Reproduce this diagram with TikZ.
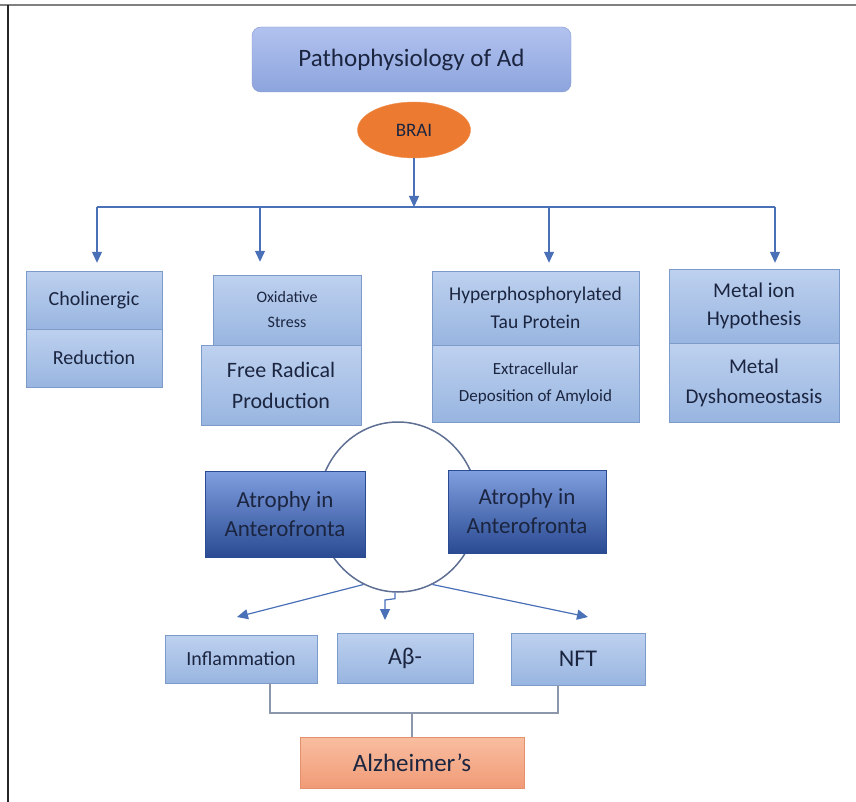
\documentclass[tikz,border=0pt]{standalone}
\usepackage{fontspec}
\setmainfont{Carlito}
\usetikzlibrary{arrows.meta}
\usetikzlibrary{shapes.geometric}

\definecolor{boxtop}{HTML}{BED1EF}
\definecolor{boxbot}{HTML}{98B5E0}
\definecolor{boxline}{HTML}{7C9BCB}
\definecolor{inktext}{HTML}{1B2540}
\definecolor{titletop}{HTML}{B2C2EF}
\definecolor{titlebot}{HTML}{8CA4DD}
\definecolor{titleline}{HTML}{8196CF}
\definecolor{brainfill}{HTML}{EC7B31}
\definecolor{atrtop}{HTML}{809FE0}
\definecolor{atrbot}{HTML}{2A4A92}
\definecolor{alztop}{HTML}{F8BEA0}
\definecolor{alzbot}{HTML}{F19B77}
\definecolor{alzline}{HTML}{E3906D}
\definecolor{flowblue}{HTML}{4A70B8}
\definecolor{ringgray}{HTML}{5E6F93}
\definecolor{joingray}{HTML}{8C97AC}

\tikzset{
  lightbox/.style={draw=boxline, top color=boxtop, bottom color=boxbot, text=inktext, align=center, inner sep=0pt},
  darkbox/.style={draw=atrbot, top color=atrtop, bottom color=atrbot, text=inktext, align=center, inner sep=0pt, font=\fontsize{23}{29}\selectfont},
  flow/.style={draw=flowblue, line width=1.2pt, -{Triangle[length=11pt,width=10pt]}},
  busline/.style={draw=flowblue, line width=1.2pt},
  joint/.style={draw=joingray, line width=1.4pt},
}

\begin{document}
\begin{tikzpicture}[x=1pt,y=-1pt]
	\useasboundingbox (0,0) rectangle (856,802);
	%Frame
	\draw [line width=2pt, color=gray] (0,5) to (856,5);
	\draw [line width=2pt, color=black!85] (8,5) to (8,802);
	%Title and brain
	\node [draw=titleline, rounded corners=9pt, top color=titletop, bottom color=titlebot, text=inktext,
		minimum width=319pt, minimum height=65pt, font=\fontsize{25}{30}\selectfont] (title) at (411.5,59.5) {Pathophysiology of Ad};
	\node [ellipse, fill=brainfill, draw=brainfill!85!white, text=inktext, minimum width=113pt, minimum height=56pt,
		inner sep=0pt, font=\fontsize{19}{23}\selectfont] (brain) at (414,130) {BRAI};
	%Bus
	\coordinate (bus) at (414,207);
	\coordinate (b1) at (97,207);
	\coordinate (b2) at (260,207);
	\coordinate (b3) at (549,207);
	\coordinate (b4) at (775,207);
	\draw [flow] (brain) to (bus);
	\draw [busline] (b1) to (b4);
	%First row of boxes
	\node [lightbox, minimum width=136pt, minimum height=58pt, font=\fontsize{20}{25}\selectfont] (chol) at (94,300) {Cholinergic};
	\node [lightbox, minimum width=136pt, minimum height=58pt, font=\fontsize{20}{25}\selectfont] (reduc) at (94,358) {Reduction};
	\node [lightbox, minimum width=148pt, minimum height=70pt, font=\fontsize{16}{25}\selectfont] (oxid) at (287,310) {Oxidative\\Stress};
	\node [lightbox, minimum width=160pt, minimum height=80pt, font=\fontsize{22}{31}\selectfont] (radical) at (281,385) {Free Radical\\Production};
	\node [lightbox, minimum width=207pt, minimum height=74pt, font=\fontsize{19.5}{28}\selectfont] (tau) at (535.5,308) {Hyperphosphorylated\\Tau Protein};
	\node [lightbox, minimum width=207pt, minimum height=77pt, font=\fontsize{17}{27}\selectfont] (amyloid) at (535.5,383.5) {Extracellular\\Deposition of Amyloid};
	\node [lightbox, minimum width=170pt, minimum height=74pt, font=\fontsize{21}{28}\selectfont] (metal) at (754,306) {Metal ion\\Hypothesis};
	\node [lightbox, minimum width=170pt, minimum height=79pt, font=\fontsize{21}{30}\selectfont] (dysho) at (754,382.5) {Metal\\Dyshomeostasis};
	%Drops
	\draw [flow, shorten >=8pt] (b1) to (b1 |- chol.north);
	\draw [flow, shorten >=13pt] (b2) to (b2 |- oxid.north);
	\draw [flow, shorten >=8pt] (b3) to (b3 |- tau.north);
	\draw [flow, shorten >=6pt] (b4) to (b4 |- metal.north);
	%Ring and atrophy
	\node [ellipse, draw=ringgray, line width=1.5pt, minimum width=160pt, minimum height=170pt, inner sep=0pt] (ring) at (398,507) {};
	\node [darkbox, minimum width=160pt, minimum height=86pt] (atrleft) at (285,514) {Atrophy in\\Anterofronta};
	\node [darkbox, minimum width=158pt, minimum height=83pt] (atrright) at (527,511.5) {Atrophy in\\Anterofronta};
	%Second row
	\node [lightbox, minimum width=152pt, minimum height=48pt, font=\fontsize{20}{24}\selectfont] (inflam) at (241,659) {Inflammation};
	\node [lightbox, minimum width=136pt, minimum height=50pt, font=\fontsize{24}{28}\selectfont] (abeta) at (405,658) {Aβ-};
	\node [lightbox, minimum width=134pt, minimum height=52pt, font=\fontsize{24}{28}\selectfont] (nft) at (578,659) {NFT};
	\coordinate (tipl) at (237,617);
	\coordinate (tipm) at (385,620);
	\coordinate (tipr) at (588,617);
	\draw [flow] (ring.246) to (tipl);
	\draw [flow] (ring.268) to ++(0,6) to (tipm |- 0,600) to (tipm);
	\draw [flow] (ring.294) to (tipr);
	%Alzheimer
	\node [draw=alzline, top color=alztop, bottom color=alzbot, text=inktext, minimum width=224pt, minimum height=51pt,
		font=\fontsize{25}{30}\selectfont] (alz) at (412,762.5) {Alzheimer’s};
	\coordinate (jl) at (270,713);
	\coordinate (jr) at (558,713);
	\draw [joint] (inflam.south -| jl) to (jl) to (jr) to (nft.south -| jr);
	\draw [joint] (alz.north) to (alz.north |- jl);
\end{tikzpicture}
\end{document}
